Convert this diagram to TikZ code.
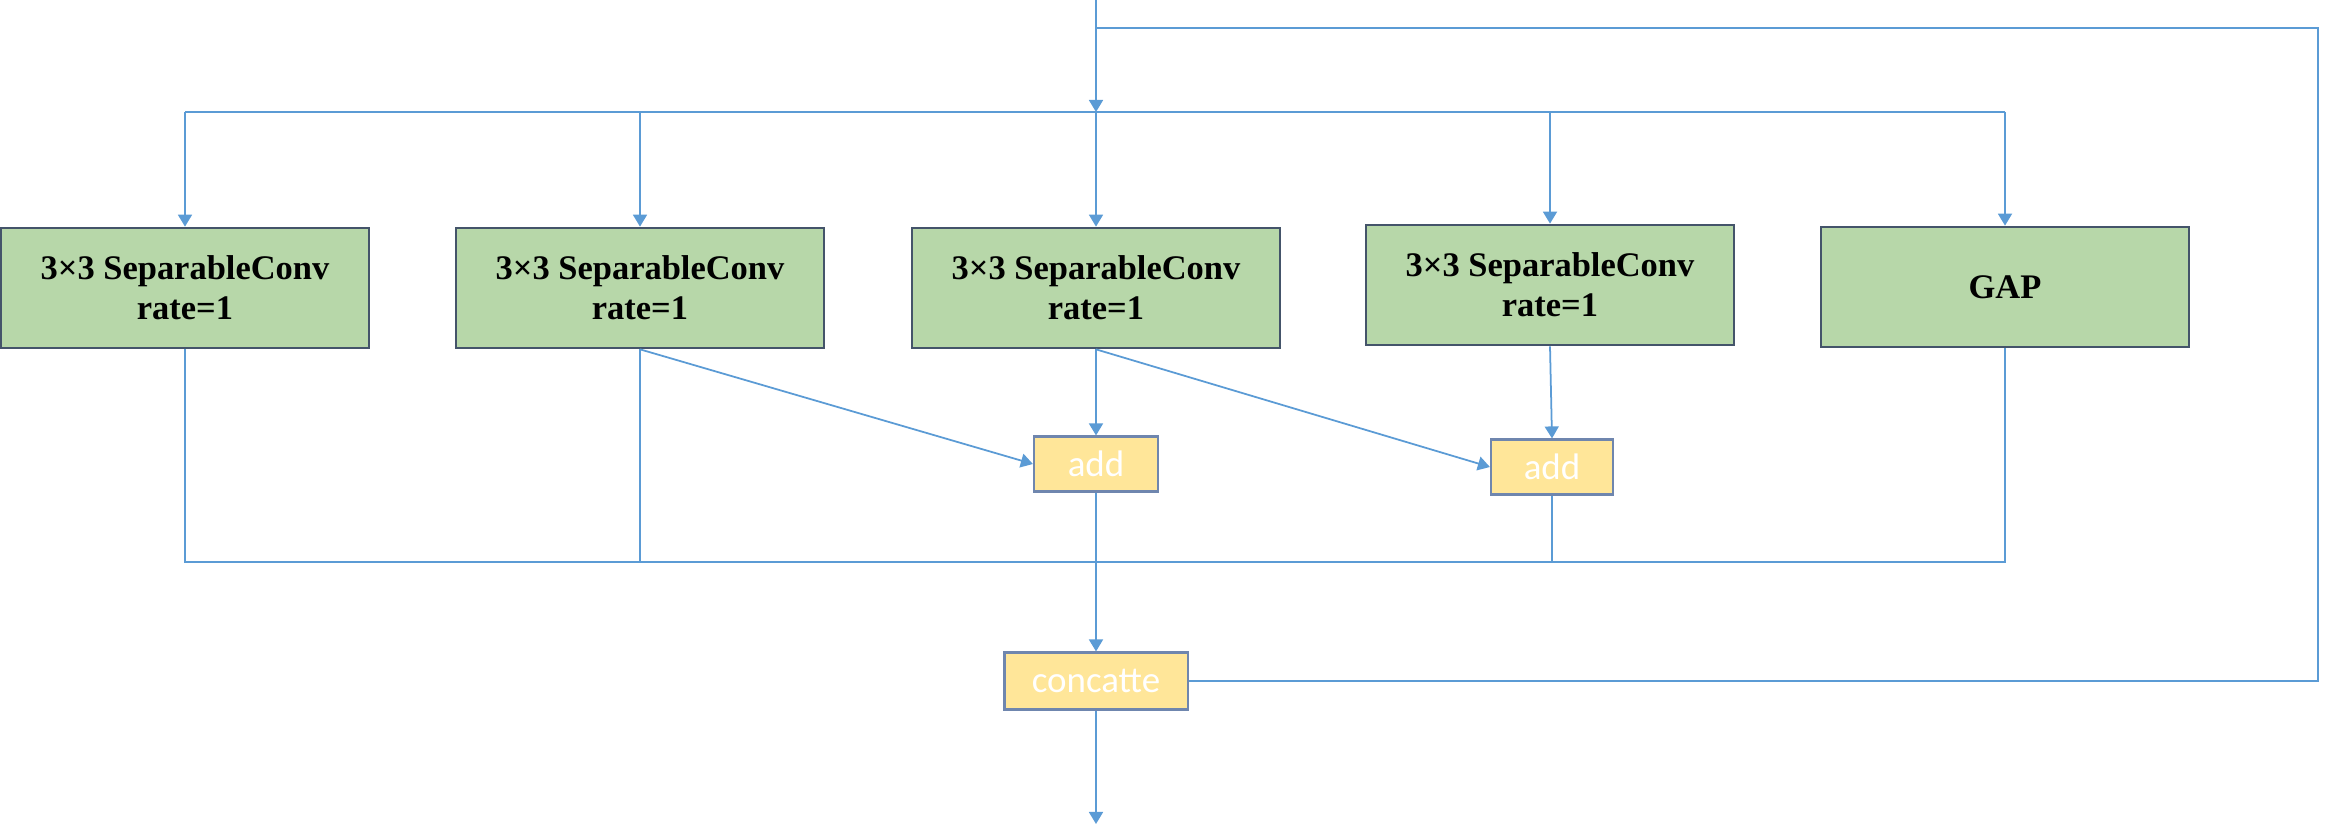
\documentclass[tikz,border=0pt]{standalone}
\usepackage{fontspec}
\setmainfont{Liberation Serif}
\newfontfamily\carl{Carlito}
\usetikzlibrary{arrows.meta}
\definecolor{lineblue}{HTML}{5B9BD5}
\definecolor{boxgreen}{HTML}{B7D7A9}
\definecolor{greenedge}{HTML}{44546A}
\definecolor{boxyellow}{HTML}{FFE699}
\definecolor{yellowedge}{HTML}{6F86AE}
\begin{document}
\begin{tikzpicture}[x=0.01cm,y=-0.01cm,
 conv/.style={draw=greenedge, line width=0.75pt, fill=boxgreen, minimum width=3.68cm, minimum height=1.2cm, inner sep=0pt, align=center, font=\fontsize{9.8}{11.4}\selectfont\bfseries},
 op/.style={draw=yellowedge, line width=0.6pt, fill=boxyellow, minimum height=0.55cm, inner sep=0pt, text=white, font=\carl\fontsize{10.5}{12}\selectfont},
 wire/.style={draw=lineblue, line width=0.5pt},
 arr/.style={wire, -{Triangle[width=0.14cm,length=0.12cm]}}]
\useasboundingbox (0,0) rectangle (2342,840);
\node[conv] (b1) at (185,288) {3×3 SeparableConv\\rate=1};
\node[conv] (b2) at (640,288) {3×3 SeparableConv\\rate=1};
\node[conv] (b3) at (1096,288) {3×3 SeparableConv\\rate=1};
\node[conv] (b4) at (1550,285) {3×3 SeparableConv\\rate=1};
\node[conv] (gap) at (2005,287) {GAP};
\node[op, minimum width=1.24cm] (a1) at (1096,464) {add};
\node[op, minimum width=1.22cm] (a2) at (1552,467) {add};
\node[op, minimum width=1.83cm, minimum height=0.57cm] (cc) at (1096,681) {concatte};
\coordinate (in) at (1096,0);
\coordinate (split) at (1096,112);
\coordinate (loop) at (1096,28);
\coordinate (r1) at (2318,28);
\coordinate (col) at (0,562);
\coordinate (out) at (1096,824);
\draw[arr] (in) -- (split);
\draw[wire] (loop) -- (r1) -- (r1 |- cc.east) -- (cc.east);
\draw[wire] (b1.north |- split) -- (gap.north |- split);
\foreach \b in {b1,b2,b3,b4,gap} \draw[arr] (\b.north |- split) -- (\b.north);
\draw[wire] (b1.south) -- (b1.south |- col) -- (gap.south |- col) -- (gap.south);
\draw[wire] (b2.south) -- (b2.south |- col);
\draw[wire] (a2.south) -- (a2.south |- col);
\draw[arr] (a1.south) -- (cc.north);
\draw[arr] (b3.south) -- (a1.north);
\draw[arr] (b4.south) -- (a2.north);
\draw[arr] (b2.south) -- (a1.west);
\draw[arr] (b3.south) -- (a2.west);
\draw[arr] (cc.south) -- (out);
\end{tikzpicture}
\end{document}
